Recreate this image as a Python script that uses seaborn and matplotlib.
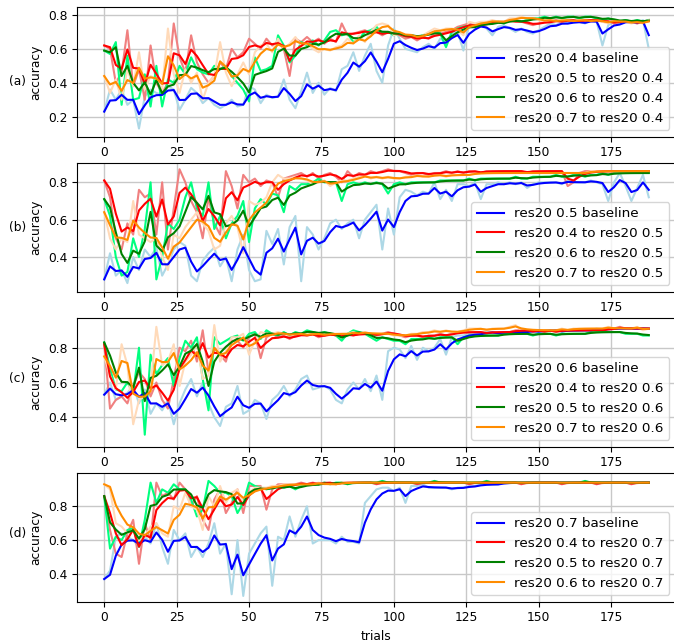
import numpy as np
import pandas as pd
import matplotlib
matplotlib.use("Agg")
import matplotlib.pyplot as plt
import seaborn as sns

# trials sampled every 2 steps
trials = list(range(0, 189, 2))

# ---------------- panel (a): target res20 0.4 ----------------
a_labels = ["res20 0.4 baseline", "res20 0.5 to res20 0.4",
            "res20 0.6 to res20 0.4", "res20 0.7 to res20 0.4"]
a_blue = [0.23, 0.36, 0.30, 0.36, 0.27, 0.30, 0.13, 0.32, 0.36, 0.34,
          0.33, 0.38, 0.36, 0.24, 0.30, 0.37, 0.34, 0.28, 0.31, 0.27,
          0.25, 0.27, 0.30, 0.26, 0.27, 0.38, 0.36, 0.28, 0.33, 0.31,
          0.32, 0.42, 0.30, 0.25, 0.35, 0.46, 0.34, 0.40, 0.33, 0.37,
          0.35, 0.48, 0.50, 0.58, 0.47, 0.56, 0.63, 0.47, 0.40, 0.62,
          0.72, 0.66, 0.60, 0.59, 0.58, 0.61, 0.63, 0.60, 0.66, 0.64,
          0.69, 0.70, 0.59, 0.74, 0.74, 0.75, 0.72, 0.68, 0.73, 0.74,
          0.72, 0.70, 0.72, 0.70, 0.69, 0.71, 0.73, 0.75, 0.74, 0.76,
          0.75, 0.76, 0.76, 0.75, 0.77, 0.76, 0.62, 0.74, 0.76, 0.75,
          0.77, 0.76, 0.75, 0.77, 0.60]
a_red = [0.62, 0.60, 0.40, 0.46, 0.71, 0.38, 0.48, 0.30, 0.62, 0.40,
         0.34, 0.40, 0.75, 0.55, 0.46, 0.68, 0.52, 0.45, 0.40, 0.44,
         0.52, 0.48, 0.60, 0.55, 0.58, 0.66, 0.63, 0.60, 0.66, 0.62,
         0.64, 0.60, 0.44, 0.66, 0.64, 0.67, 0.64, 0.66, 0.63, 0.66,
         0.64, 0.75, 0.68, 0.69, 0.70, 0.71, 0.69, 0.70, 0.68, 0.70,
         0.69, 0.68, 0.66, 0.67, 0.65, 0.67, 0.66, 0.69, 0.69, 0.70,
         0.71, 0.73, 0.74, 0.75, 0.74, 0.74, 0.75, 0.76, 0.76, 0.76,
         0.77, 0.76, 0.76, 0.75, 0.74, 0.75, 0.76, 0.76, 0.77, 0.76,
         0.77, 0.77, 0.76, 0.77, 0.77, 0.77, 0.76, 0.76, 0.75, 0.76,
         0.77, 0.76, 0.75, 0.76, 0.77]
a_green = [0.59, 0.57, 0.64, 0.27, 0.56, 0.30, 0.31, 0.45, 0.26, 0.50,
           0.26, 0.42, 0.40, 0.50, 0.45, 0.55, 0.48, 0.46, 0.45, 0.50,
           0.48, 0.50, 0.44, 0.40, 0.36, 0.29, 0.55, 0.47, 0.48, 0.50,
           0.68, 0.62, 0.52, 0.56, 0.64, 0.62, 0.65, 0.62, 0.65, 0.70,
           0.71, 0.68, 0.69, 0.64, 0.66, 0.70, 0.71, 0.73, 0.69, 0.70,
           0.68, 0.69, 0.67, 0.68, 0.67, 0.68, 0.69, 0.70, 0.69, 0.61,
           0.70, 0.72, 0.73, 0.74, 0.73, 0.75, 0.75, 0.75, 0.76, 0.75,
           0.77, 0.77, 0.76, 0.77, 0.78, 0.78, 0.79, 0.78, 0.79, 0.78,
           0.79, 0.79, 0.78, 0.79, 0.79, 0.78, 0.77, 0.78, 0.77, 0.76,
           0.77, 0.76, 0.77, 0.76, 0.77]
a_orange = [0.44, 0.34, 0.42, 0.30, 0.48, 0.38, 0.58, 0.36, 0.44, 0.42,
            0.36, 0.72, 0.45, 0.34, 0.48, 0.40, 0.46, 0.30, 0.40, 0.44,
            0.64, 0.46, 0.38, 0.45, 0.52, 0.45, 0.58, 0.62, 0.63, 0.58,
            0.66, 0.60, 0.63, 0.67, 0.62, 0.63, 0.60, 0.58, 0.60, 0.59,
            0.61, 0.62, 0.66, 0.63, 0.68, 0.64, 0.70, 0.74, 0.75, 0.74,
            0.68, 0.69, 0.67, 0.68, 0.66, 0.68, 0.70, 0.72, 0.71, 0.72,
            0.72, 0.71, 0.68, 0.76, 0.75, 0.76, 0.76, 0.77, 0.76, 0.76,
            0.78, 0.78, 0.79, 0.78, 0.78, 0.77, 0.76, 0.77, 0.76, 0.77,
            0.77, 0.76, 0.77, 0.77, 0.76, 0.77, 0.76, 0.75, 0.77, 0.76,
            0.76, 0.75, 0.76, 0.75, 0.77]

# ---------------- panel (b): target res20 0.5 ----------------
b_labels = ["res20 0.5 baseline", "res20 0.4 to res20 0.5",
            "res20 0.6 to res20 0.5", "res20 0.7 to res20 0.5"]
b_blue = [0.28, 0.42, 0.30, 0.33, 0.26, 0.40, 0.33, 0.44, 0.40, 0.45,
          0.30, 0.36, 0.44, 0.48, 0.46, 0.30, 0.27, 0.38, 0.42, 0.45,
          0.35, 0.40, 0.27, 0.44, 0.52, 0.33, 0.27, 0.28, 0.54, 0.47,
          0.55, 0.36, 0.56, 0.62, 0.27, 0.56, 0.52, 0.44, 0.50, 0.58,
          0.60, 0.55, 0.58, 0.60, 0.50, 0.60, 0.64, 0.68, 0.44, 0.66,
          0.52, 0.72, 0.76, 0.75, 0.73, 0.75, 0.74, 0.80, 0.71, 0.76,
          0.70, 0.79, 0.79, 0.78, 0.80, 0.71, 0.79, 0.79, 0.80, 0.79,
          0.80, 0.79, 0.80, 0.77, 0.79, 0.80, 0.80, 0.80, 0.80, 0.79,
          0.81, 0.80, 0.80, 0.80, 0.81, 0.80, 0.79, 0.70, 0.80, 0.85,
          0.78, 0.70, 0.77, 0.84, 0.72]
b_red = [0.81, 0.72, 0.50, 0.44, 0.58, 0.52, 0.76, 0.72, 0.74, 0.52,
         0.80, 0.44, 0.66, 0.87, 0.80, 0.70, 0.64, 0.50, 0.72, 0.58,
         0.52, 0.86, 0.78, 0.66, 0.84, 0.80, 0.82, 0.78, 0.81, 0.80,
         0.72, 0.82, 0.83, 0.84, 0.85, 0.83, 0.85, 0.82, 0.84, 0.85,
         0.83, 0.80, 0.86, 0.83, 0.85, 0.84, 0.86, 0.85, 0.86, 0.87,
         0.86, 0.86, 0.85, 0.84, 0.85, 0.85, 0.84, 0.85, 0.85, 0.86,
         0.85, 0.86, 0.85, 0.86, 0.86, 0.85, 0.86, 0.86, 0.86, 0.86,
         0.86, 0.86, 0.86, 0.85, 0.86, 0.86, 0.86, 0.86, 0.86, 0.86,
         0.78, 0.80, 0.85, 0.86, 0.86, 0.86, 0.86, 0.86, 0.86, 0.86,
         0.86, 0.86, 0.86, 0.86, 0.86]
b_green = [0.71, 0.62, 0.40, 0.30, 0.32, 0.50, 0.40, 0.55, 0.80, 0.28,
           0.40, 0.58, 0.55, 0.60, 0.72, 0.80, 0.66, 0.62, 0.80, 0.55,
           0.62, 0.50, 0.58, 0.62, 0.70, 0.48, 0.66, 0.71, 0.68, 0.74,
           0.73, 0.64, 0.78, 0.76, 0.79, 0.79, 0.80, 0.82, 0.80, 0.80,
           0.80, 0.70, 0.79, 0.80, 0.79, 0.80, 0.79, 0.80, 0.79, 0.74,
           0.79, 0.80, 0.79, 0.80, 0.80, 0.80, 0.80, 0.80, 0.81, 0.81,
           0.81, 0.81, 0.81, 0.82, 0.81, 0.82, 0.82, 0.82, 0.82, 0.82,
           0.82, 0.83, 0.82, 0.82, 0.83, 0.83, 0.83, 0.83, 0.84, 0.83,
           0.83, 0.84, 0.84, 0.83, 0.84, 0.84, 0.85, 0.84, 0.85, 0.85,
           0.85, 0.85, 0.85, 0.85, 0.85]
b_orange = [0.64, 0.50, 0.44, 0.50, 0.48, 0.70, 0.52, 0.50, 0.48, 0.50,
            0.40, 0.33, 0.52, 0.50, 0.56, 0.60, 0.64, 0.58, 0.54, 0.44,
            0.46, 0.58, 0.62, 0.56, 0.42, 0.70, 0.68, 0.69, 0.72, 0.80,
            0.84, 0.82, 0.82, 0.83, 0.82, 0.81, 0.79, 0.80, 0.81, 0.78,
            0.80, 0.81, 0.81, 0.82, 0.83, 0.84, 0.82, 0.83, 0.82, 0.83,
            0.82, 0.82, 0.83, 0.83, 0.84, 0.83, 0.83, 0.84, 0.84, 0.83,
            0.84, 0.84, 0.84, 0.84, 0.85, 0.85, 0.85, 0.85, 0.85, 0.85,
            0.85, 0.85, 0.85, 0.85, 0.85, 0.85, 0.85, 0.85, 0.85, 0.85,
            0.85, 0.85, 0.85, 0.85, 0.86, 0.86, 0.86, 0.86, 0.86, 0.86,
            0.86, 0.86, 0.86, 0.86, 0.86]

# ---------------- panel (c): target res20 0.6 ----------------
c_labels = ["res20 0.6 baseline", "res20 0.4 to res20 0.6",
            "res20 0.5 to res20 0.6", "res20 0.7 to res20 0.6"]
c_blue = [0.53, 0.60, 0.50, 0.52, 0.54, 0.58, 0.48, 0.56, 0.42, 0.48,
          0.44, 0.50, 0.36, 0.48, 0.56, 0.62, 0.52, 0.60, 0.48, 0.40,
          0.35, 0.46, 0.48, 0.58, 0.42, 0.44, 0.50, 0.48, 0.39, 0.50,
          0.53, 0.58, 0.52, 0.56, 0.62, 0.64, 0.56, 0.57, 0.58, 0.56,
          0.50, 0.48, 0.56, 0.60, 0.56, 0.62, 0.55, 0.64, 0.50, 0.78,
          0.80, 0.79, 0.74, 0.81, 0.73, 0.80, 0.78, 0.80, 0.85, 0.76,
          0.86, 0.87, 0.87, 0.88, 0.88, 0.88, 0.89, 0.89, 0.88, 0.89,
          0.89, 0.89, 0.89, 0.89, 0.90, 0.89, 0.90, 0.90, 0.90, 0.89,
          0.90, 0.90, 0.90, 0.90, 0.90, 0.91, 0.90, 0.91, 0.91, 0.91,
          0.91, 0.91, 0.91, 0.91, 0.91]
c_red = [0.82, 0.45, 0.50, 0.52, 0.48, 0.58, 0.66, 0.62, 0.52, 0.60,
         0.50, 0.45, 0.62, 0.80, 0.78, 0.84, 0.72, 0.90, 0.66, 0.80,
         0.76, 0.72, 0.84, 0.84, 0.80, 0.86, 0.88, 0.74, 0.86, 0.88,
         0.86, 0.87, 0.85, 0.87, 0.88, 0.87, 0.88, 0.86, 0.87, 0.88,
         0.87, 0.86, 0.88, 0.87, 0.88, 0.88, 0.88, 0.87, 0.88, 0.89,
         0.88, 0.87, 0.86, 0.87, 0.87, 0.86, 0.87, 0.87, 0.88, 0.87,
         0.88, 0.89, 0.89, 0.89, 0.89, 0.89, 0.88, 0.89, 0.89, 0.89,
         0.89, 0.90, 0.90, 0.90, 0.89, 0.90, 0.89, 0.90, 0.89, 0.90,
         0.90, 0.90, 0.90, 0.90, 0.90, 0.90, 0.90, 0.91, 0.91, 0.92,
         0.91, 0.91, 0.91, 0.91, 0.91]
c_green = [0.83, 0.68, 0.56, 0.55, 0.60, 0.54, 0.80, 0.30, 0.76, 0.65,
           0.70, 0.74, 0.58, 0.74, 0.84, 0.80, 0.86, 0.62, 0.44, 0.86,
           0.82, 0.84, 0.86, 0.87, 0.84, 0.88, 0.89, 0.85, 0.90, 0.88,
           0.87, 0.89, 0.87, 0.89, 0.88, 0.90, 0.89, 0.88, 0.89, 0.88,
           0.87, 0.84, 0.88, 0.90, 0.89, 0.88, 0.86, 0.84, 0.86, 0.85,
           0.84, 0.84, 0.82, 0.85, 0.85, 0.85, 0.86, 0.85, 0.86, 0.86,
           0.86, 0.82, 0.86, 0.87, 0.87, 0.87, 0.87, 0.87, 0.87, 0.88,
           0.88, 0.88, 0.88, 0.88, 0.87, 0.88, 0.88, 0.88, 0.87, 0.88,
           0.88, 0.88, 0.88, 0.88, 0.89, 0.89, 0.89, 0.89, 0.89, 0.89,
           0.88, 0.88, 0.88, 0.87, 0.87]
c_orange = [0.75, 0.64, 0.56, 0.82, 0.70, 0.36, 0.50, 0.52, 0.58, 0.92,
            0.70, 0.72, 0.82, 0.58, 0.72, 0.76, 0.82, 0.62, 0.64, 0.93,
            0.72, 0.78, 0.86, 0.86, 0.88, 0.76, 0.84, 0.89, 0.88, 0.88,
            0.89, 0.88, 0.87, 0.88, 0.88, 0.87, 0.88, 0.88, 0.87, 0.88,
            0.88, 0.88, 0.88, 0.89, 0.88, 0.89, 0.88, 0.88, 0.88, 0.88,
            0.87, 0.87, 0.87, 0.88, 0.88, 0.89, 0.89, 0.90, 0.89, 0.90,
            0.89, 0.89, 0.90, 0.91, 0.91, 0.91, 0.90, 0.91, 0.91, 0.91,
            0.92, 0.93, 0.90, 0.90, 0.90, 0.90, 0.90, 0.90, 0.90, 0.91,
            0.90, 0.91, 0.91, 0.91, 0.91, 0.91, 0.91, 0.92, 0.91, 0.91,
            0.91, 0.91, 0.92, 0.90, 0.91]

# ---------------- panel (d): target res20 0.7 ----------------
d_labels = ["res20 0.7 baseline", "res20 0.4 to res20 0.7",
            "res20 0.5 to res20 0.7", "res20 0.6 to res20 0.7"]
d_blue = [0.37, 0.42, 0.62, 0.64, 0.62, 0.60, 0.56, 0.62, 0.58, 0.70,
          0.56, 0.46, 0.66, 0.60, 0.64, 0.50, 0.56, 0.50, 0.58, 0.70,
          0.52, 0.58, 0.28, 0.60, 0.27, 0.52, 0.58, 0.64, 0.68, 0.33,
          0.62, 0.60, 0.74, 0.62, 0.72, 0.80, 0.58, 0.60, 0.60, 0.60,
          0.58, 0.62, 0.59, 0.59, 0.58, 0.82, 0.86, 0.90, 0.91, 0.91,
          0.89, 0.91, 0.82, 0.92, 0.92, 0.93, 0.91, 0.91, 0.91, 0.91,
          0.90, 0.91, 0.91, 0.92, 0.92, 0.93, 0.93, 0.93, 0.93, 0.94,
          0.94, 0.94, 0.94, 0.94, 0.94, 0.94, 0.94, 0.94, 0.94, 0.94,
          0.94, 0.94, 0.94, 0.94, 0.94, 0.94, 0.94, 0.94, 0.94, 0.94,
          0.94, 0.94, 0.94, 0.94, 0.94]
d_red = [0.86, 0.66, 0.52, 0.50, 0.64, 0.72, 0.46, 0.70, 0.60, 0.94,
         0.86, 0.88, 0.84, 0.94, 0.90, 0.80, 0.86, 0.72, 0.66, 0.84,
         0.90, 0.76, 0.82, 0.90, 0.76, 0.92, 0.92, 0.92, 0.78, 0.90,
         0.93, 0.93, 0.93, 0.93, 0.94, 0.93, 0.94, 0.93, 0.94, 0.94,
         0.93, 0.94, 0.94, 0.94, 0.94, 0.94, 0.94, 0.93, 0.94, 0.94,
         0.94, 0.94, 0.94, 0.94, 0.93, 0.94, 0.94, 0.94, 0.94, 0.94,
         0.94, 0.94, 0.94, 0.93, 0.94, 0.94, 0.94, 0.94, 0.94, 0.94,
         0.94, 0.94, 0.93, 0.94, 0.94, 0.94, 0.94, 0.94, 0.94, 0.93,
         0.94, 0.94, 0.94, 0.94, 0.94, 0.93, 0.94, 0.94, 0.94, 0.94,
         0.94, 0.93, 0.94, 0.94, 0.94]
d_green = [0.86, 0.55, 0.62, 0.60, 0.66, 0.67, 0.56, 0.72, 0.94, 0.82,
           0.90, 0.88, 0.93, 0.90, 0.90, 0.84, 0.74, 0.78, 0.95, 0.92,
           0.88, 0.88, 0.86, 0.76, 0.82, 0.94, 0.92, 0.91, 0.90, 0.91,
           0.92, 0.91, 0.92, 0.90, 0.92, 0.93, 0.93, 0.93, 0.94, 0.93,
           0.94, 0.94, 0.93, 0.94, 0.94, 0.94, 0.94, 0.94, 0.95, 0.94,
           0.94, 0.94, 0.94, 0.94, 0.94, 0.94, 0.94, 0.95, 0.94, 0.94,
           0.94, 0.94, 0.94, 0.94, 0.94, 0.94, 0.95, 0.94, 0.94, 0.94,
           0.94, 0.94, 0.94, 0.94, 0.94, 0.94, 0.94, 0.94, 0.94, 0.94,
           0.94, 0.94, 0.94, 0.95, 0.94, 0.94, 0.94, 0.94, 0.94, 0.94,
           0.94, 0.94, 0.94, 0.94, 0.94]
d_orange = [0.93, 0.90, 0.70, 0.68, 0.64, 0.66, 0.60, 0.62, 0.68, 0.70,
            0.64, 0.62, 0.80, 0.78, 0.88, 0.80, 0.78, 0.66, 0.86, 0.80,
            0.92, 0.82, 0.88, 0.90, 0.82, 0.88, 0.91, 0.91, 0.91, 0.92,
            0.92, 0.93, 0.93, 0.93, 0.93, 0.93, 0.93, 0.94, 0.93, 0.93,
            0.93, 0.94, 0.94, 0.94, 0.94, 0.94, 0.94, 0.94, 0.94, 0.94,
            0.94, 0.94, 0.94, 0.94, 0.94, 0.94, 0.94, 0.94, 0.94, 0.94,
            0.94, 0.94, 0.94, 0.94, 0.94, 0.94, 0.94, 0.94, 0.94, 0.94,
            0.94, 0.94, 0.94, 0.94, 0.94, 0.94, 0.94, 0.94, 0.94, 0.94,
            0.94, 0.94, 0.94, 0.94, 0.94, 0.94, 0.94, 0.94, 0.94, 0.94,
            0.94, 0.94, 0.94, 0.94, 0.94]

panels = [
    ("(a)", a_labels, [a_blue, a_red, a_green, a_orange]),
    ("(b)", b_labels, [b_blue, b_red, b_green, b_orange]),
    ("(c)", c_labels, [c_blue, c_red, c_green, c_orange]),
    ("(d)", d_labels, [d_blue, d_red, d_green, d_orange]),
]

dark_colors = ["blue", "red", "green", "darkorange"]
light_colors = ["lightblue", "lightcoral", "springgreen", "peachpuff"]

plt.rcParams["font.family"] = ["DejaVu Sans"]
FS = 8.8
LFS = 9.7
plt.rcParams["font.size"] = FS

W, H = 674, 643
fig = plt.figure(figsize=(W / 100, H / 100), dpi=100)

# axes boxes in pixels: (top, bottom)
boxes = [(7, 136.7), (163.3, 291.7), (318.3, 446.7), (473.3, 601.7)]
ylims = [(0.082, 0.847), (0.214, 0.902), (0.231, 0.969), (0.236, 0.995)]
tag_y = [81, 227, 378, 533]
left_px, right_px = 77, 676

for i, (tag, labels, series) in enumerate(panels):
    top, bot = boxes[i]
    ax = fig.add_axes([left_px / W, (H - bot) / H,
                       (right_px - left_px) / W, (bot - top) / H])
    df = pd.DataFrame({"trial": trials})
    for k, vals in enumerate(series):
        df[f"raw{k}"] = vals
        df[f"smooth{k}"] = pd.Series(vals).ewm(alpha=0.5, adjust=False).mean()
    for k in range(4):
        sns.lineplot(data=df, x="trial", y=f"raw{k}", ax=ax,
                     color=light_colors[k], lw=1.5, legend=False)
    for k in range(4):
        sns.lineplot(data=df, x="trial", y=f"smooth{k}", ax=ax,
                     color=dark_colors[k], lw=1.5, label=labels[k])
    ax.set_xlim(-9.4, 197.4)
    ax.set_ylim(*ylims[i])
    ax.set_xticks([0, 25, 50, 75, 100, 125, 150, 175])
    ax.grid(True, color="#c8c8c8", lw=1.0)
    ax.set_axisbelow(True)
    ax.set_ylabel("accuracy", fontsize=FS)
    ax.set_xlabel("trials" if i == 3 else "", fontsize=FS)
    ax.tick_params(labelsize=FS)
    ax.legend(loc="lower right", fontsize=LFS)
    fig.text(17.5 / W, 1 - tag_y[i] / H, tag, ha="center", va="center",
             fontsize=FS)

fig.savefig("out.png", dpi=100)
